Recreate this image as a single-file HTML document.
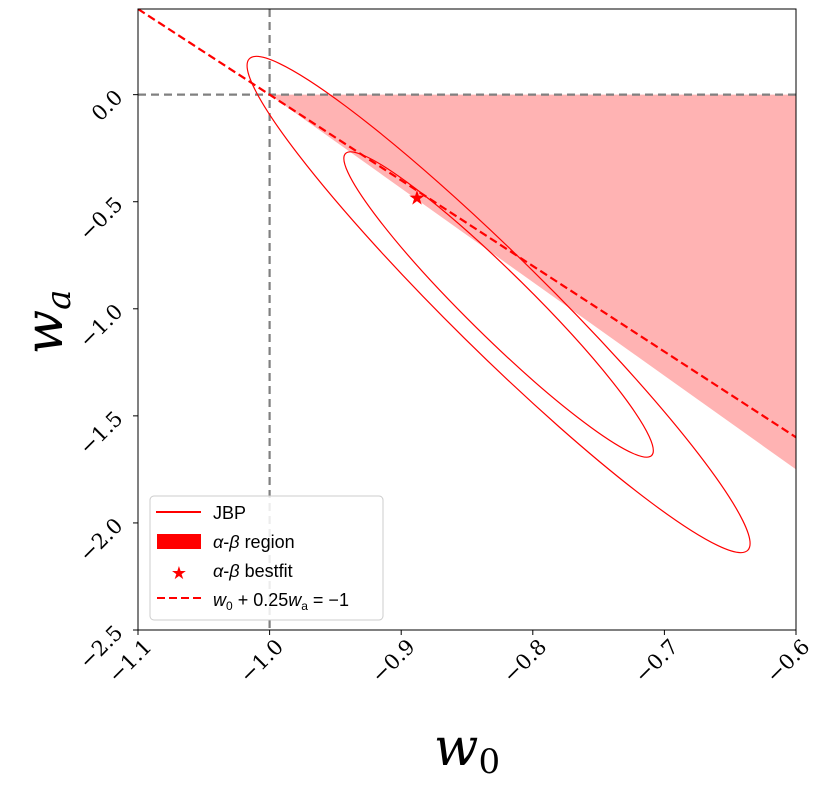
<!DOCTYPE html>
<html><head><meta charset="utf-8"><style>
body{margin:0;background:#fff;width:834px;height:783px;overflow:hidden}
svg text{font-family:"DejaVu Serif","Liberation Serif",serif}
</style></head><body>
<svg id="c" width="834" height="783">
</svg>
<script>
const xTicks=[-1.1,-1.0,-0.9,-0.8,-0.7,-0.6];
const yTicks=[-2.5,-2.0,-1.5,-1.0,-0.5,0.0];
const xTickLabels=["−1.1","−1.0","−0.9","−0.8","−0.7","−0.6"];
const yTickLabels=["−2.5","−2.0","−1.5","−1.0","−0.5","0.0"];
const regionW0=[-1.0,-0.6,-0.6];
const regionWa=[0.0,0.0,-1.75];
const bestfit=[-0.888,-0.48];
const ellCenter=[-0.826,-0.98];
const ellOuter=[350,48];
const ellInner=[215,32];
const ellAngle=44.6;
const lineW0=[-1.1,-0.6];
const NS="http://www.w3.org/2000/svg";
const svg=document.getElementById('c');
const X0=138,X1=796,Y0=9,Y1=630,xmin=-1.1,xmax=-0.6,ymin=-2.5,ymax=0.4;
const sx=v=>X0+(v-xmin)/(xmax-xmin)*(X1-X0);
const sy=v=>Y1-(v-ymin)/(ymax-ymin)*(Y1-Y0);
function mk(t,a,p){const e=document.createElementNS(NS,t);for(const k in a)e.setAttribute(k,a[k]);(p||svg).appendChild(e);return e;}
const defs=mk('defs',{});const cp=mk('clipPath',{id:'cp'},defs);mk('rect',{x:X0,y:Y0,width:X1-X0,height:Y1-Y0},cp);
const g=mk('g',{'clip-path':'url(#cp)'});
let pts=regionW0.map((w,i)=>sx(w)+','+sy(regionWa[i])).join(' ');
let r=mk('polygon',{points:pts,fill:'#ffb3b3'},g);


let v=mk('line',{x1:sx(-1),x2:sx(-1),y1:Y0,y2:Y1,stroke:'#808080','stroke-width':2.2,'stroke-dasharray':'8,5'},g);


let h=mk('line',{x1:X0,x2:X1,y1:sy(0),y2:sy(0),stroke:'#808080','stroke-width':2.2,'stroke-dasharray':'8,5'},g);


[[ellOuter,'outer'],[ellInner,'inner']].forEach(([a,n])=>{
 let e=mk('ellipse',{cx:0,cy:0,rx:a[0],ry:a[1],fill:'none',stroke:'red','stroke-width':1.2,transform:`translate(${sx(ellCenter[0])},${sy(ellCenter[1])}) rotate(${ellAngle})`},g);
 
 
});
let dl=mk('line',{x1:sx(lineW0[0]),y1:sy(-4*(lineW0[0]+1)),x2:sx(lineW0[1]),y2:sy(-4*(lineW0[1]+1)),stroke:'red','stroke-width':2.2,'stroke-dasharray':'8,4'},g);


let st=mk('text',{x:sx(bestfit[0]),y:sy(bestfit[1])+7,'text-anchor':'middle','font-size':20,fill:'red'},g);st.textContent='★';


mk('rect',{x:X0,y:Y0,width:X1-X0,height:Y1-Y0,fill:'none',stroke:'#000','stroke-width':1});
xTicks.forEach((t,i)=>{const x=sx(t);mk('line',{x1:x,x2:x,y1:Y1,y2:Y1+5,stroke:'#000'});
 let tx=mk('text',{x:0,y:0,'font-size':21,'text-anchor':'end',transform:`translate(${x+15},${Y1+18}) rotate(-45)`});tx.textContent=xTickLabels[i];
 
 });
yTicks.forEach((t,i)=>{const y=sy(t);mk('line',{x1:X0-5,x2:X0,y1:y,y2:y,stroke:'#000'});
 let tx=mk('text',{x:0,y:0,'font-size':21,'text-anchor':'end',transform:`translate(${X0-14},${y+4}) rotate(-45)`});tx.textContent=yTickLabels[i];
 
 });
let xl=mk('text',{x:467,y:765,'font-size':52,'font-style':'italic','text-anchor':'middle'});xl.innerHTML='w<tspan font-size="34" dy="8" font-style="normal">0</tspan>';


let yl=mk('text',{x:0,y:0,'font-size':52,'font-style':'italic','text-anchor':'middle',transform:'translate(62,322) rotate(-90)'});yl.innerHTML='w<tspan font-size="34" dy="8">a</tspan>';


const lg=mk('g',{});


mk('rect',{x:150,y:496,width:233,height:124,rx:4,fill:'rgba(255,255,255,0.85)',stroke:'#ccc'},lg);
mk('line',{x1:156,x2:201,y1:512,y2:512,stroke:'red','stroke-width':2},lg);
mk('rect',{x:157,y:534,width:44,height:15,fill:'red'},lg);
let ls=mk('text',{x:179,y:579,'font-size':18,fill:'red','text-anchor':'middle'},lg);ls.textContent='★';
mk('line',{x1:157,x2:201,y1:598,y2:598,stroke:'red','stroke-width':2,'stroke-dasharray':'8,4'},lg);
const labs=[['JBP',519],['<tspan font-style="italic">α</tspan>-<tspan font-style="italic">β</tspan> region',548],['<tspan font-style="italic">α</tspan>-<tspan font-style="italic">β</tspan> bestfit',577],['<tspan font-style="italic">w</tspan><tspan font-size="12" dy="4">0</tspan><tspan dy="-4"> + 0.25</tspan><tspan font-style="italic">w</tspan><tspan font-size="12" dy="4">a</tspan><tspan dy="-4"> = −1</tspan>',606]];
labs.forEach(([t,y])=>{let e=mk('text',{x:213,y:y,'font-size':18,style:'font-family:"Liberation Sans",sans-serif'},lg);e.innerHTML=t;
 
 });
</script>
</body></html>
